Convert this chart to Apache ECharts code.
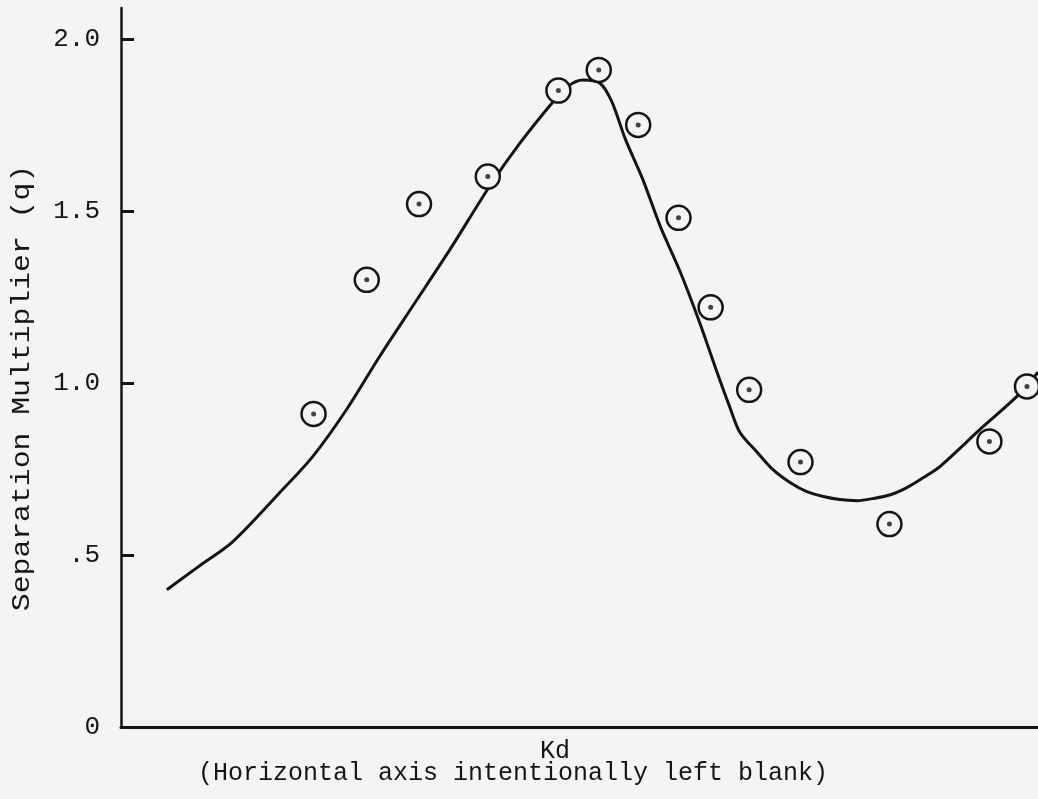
<!DOCTYPE html>
<html><head><meta charset="utf-8">
<script src="https://cdn.jsdelivr.net/npm/echarts@6/dist/echarts.min.js"></script>
<style>html,body{margin:0;padding:0;background:#f4f4f2;}#c{width:1038px;height:799px;}</style>
</head><body><div id="c"></div>
<script>
// Measured points (Kd in arbitrary units, axis intentionally blank)
const pointKd = [21.0, 26.8, 32.5, 40.0, 47.7, 52.1, 56.4, 60.8, 64.3, 68.5, 74.1, 83.8, 94.7, 98.8];
const pointQ  = [0.91, 1.30, 1.52, 1.60, 1.85, 1.91, 1.75, 1.48, 1.22, 0.98, 0.77, 0.59, 0.83, 0.99];
// Fitted curve
const curveKd = [5.0, 8.6, 12.2, 17.3, 20.9, 24.6, 28.2, 31.8, 35.9, 40.2, 43.5, 47.1, 48.75, 50.4, 52.2, 53.5, 55.0, 56.9, 58.8, 61.0, 63.1, 65.0, 66.4, 67.5, 69.4, 71.1, 73.0, 74.8, 76.6, 78.4, 80.3, 82.0, 83.9, 85.7, 87.5, 89.3, 94.0, 97.7, 100];
const curveQ  = [0.399, 0.469, 0.539, 0.681, 0.786, 0.923, 1.077, 1.223, 1.389, 1.572, 1.697, 1.817, 1.863, 1.881, 1.872, 1.819, 1.709, 1.592, 1.456, 1.322, 1.176, 1.031, 0.929, 0.856, 0.798, 0.748, 0.710, 0.684, 0.670, 0.661, 0.658, 0.664, 0.675, 0.696, 0.725, 0.757, 0.873, 0.961, 1.031];
const yTicks = [0, 0.5, 1.0, 1.5, 2.0];
const yTickLabels = ['0', '.5', '1.0', '1.5', '2.0'];

const ink = '#151515';
const paper = '#f4f4f2';
const mono = '"Liberation Mono", "DejaVu Sans Mono", monospace';
const pts = pointKd.map((x, i) => [x, pointQ[i]]);
const curve = curveKd.map((x, i) => [x, curveQ[i]]);

const chart = echarts.init(document.getElementById('c'));
chart.setOption({
  backgroundColor: paper,
  animation: false,
  grid: { left: 121, right: 0, top: 8, bottom: 72 },
  xAxis: {
    type: 'value', min: 0, max: 100,
    axisLine: { show: true, lineStyle: { color: ink, width: 3 } },
    axisTick: { show: false }, axisLabel: { show: false }, splitLine: { show: false }
  },
  yAxis: {
    type: 'value', min: 0, max: 2.09,
    axisLine: { show: true, lineStyle: { color: ink, width: 2.5 } },
    axisTick: { show: true, inside: true, length: 13, customValues: yTicks.slice(1), lineStyle: { color: ink, width: 3 } },
    axisLabel: {
      show: true, customValues: yTicks, margin: 21,
      fontFamily: mono, fontSize: 26, color: ink,
      formatter: v => { const i = yTicks.findIndex(t => Math.abs(t - v) < 1e-6); return i >= 0 ? yTickLabels[i] : ''; }
    },
    splitLine: { show: false }
  },
  graphic: [
    { type: 'text', x: 22, y: 388, rotation: Math.PI / 2, scaleX: 1.19,
      style: { text: 'Separation Multiplier (q)', font: '25px ' + mono, fill: ink, textAlign: 'center', textVerticalAlign: 'middle' } },
    { type: 'text', x: 555, y: 751,
      style: { text: 'Kd', font: '25px ' + mono, fill: ink, textAlign: 'center', textVerticalAlign: 'middle' } },
    { type: 'text', x: 513, y: 773,
      style: { text: '(Horizontal axis intentionally left blank)', font: '25px ' + mono, fill: ink, textAlign: 'center', textVerticalAlign: 'middle' } }
  ],
  series: [
    { type: 'line', data: curve, smooth: 0.3, showSymbol: false, lineStyle: { color: ink, width: 3 }, z: 2 },
    { type: 'scatter', data: pts, symbol: 'circle', symbolSize: 24,
      itemStyle: { color: paper, borderColor: ink, borderWidth: 2.5, opacity: 1 }, z: 3 },
    { type: 'scatter', data: pts, symbol: 'circle', symbolSize: 5, itemStyle: { color: ink }, z: 4 }
  ]
});
</script></body></html>
